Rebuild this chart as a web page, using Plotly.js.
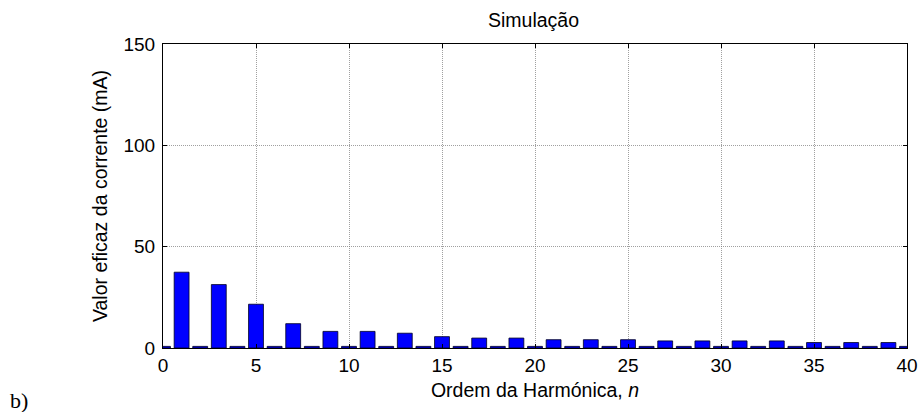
<!DOCTYPE html>
<html>
<head>
<meta charset="utf-8">
<script src="https://cdn.plot.ly/plotly-3.0.1.min.js"></script>
<style>html,body{margin:0;padding:0;background:#fff;}#chart{width:923px;height:412px;}</style>
</head>
<body>
<div id="chart"></div>
<script>
const harmonicOrder = [0,1,2,3,4,5,6,7,8,9,10,11,12,13,14,15,16,17,18,19,20,21,22,23,24,25,26,27,28,29,30,31,32,33,34,35,36,37,38,39,40];
const currentRms = [0.8,37.4,0.8,31.3,0.8,21.6,0.8,12.0,0.8,8.2,0.8,8.2,0.8,7.3,0.8,5.6,0.8,4.9,0.8,4.9,0.8,4.1,0.8,4.1,0.8,4.1,0.8,3.5,0.8,3.5,0.8,3.5,0.8,3.5,0.8,2.7,0.8,2.7,0.8,2.7,0.8];
const xTicks = [0,5,10,15,20,25,30,35,40];
const yTicks = [0,50,100,150];

const font = "Liberation Sans, Arial, sans-serif";
const trace = {
  type: 'bar',
  x: harmonicOrder,
  y: currentRms,
  width: 0.8,
  marker: {color: '#0000ff', line: {color: '#000022', width: 0.8}},
  hoverinfo: 'x+y'
};
const axisCommon = {
  showline: true, linecolor: '#000', linewidth: 1, mirror: 'ticks',
  ticks: 'inside', ticklen: 4, tickcolor: '#000', tickwidth: 1,
  showgrid: true, gridcolor: '#777', gridwidth: 0.7, griddash: '1px,1px',
  zeroline: false, tickfont: {family: font, size: 19, color: '#000'}
};
const layout = {
  width: 923, height: 412,
  margin: {l: 163, r: 16, t: 44, b: 64},
  paper_bgcolor: '#fff', plot_bgcolor: '#fff',
  showlegend: false,
  title: {text: 'Simulação', font: {family: font, size: 19.5, color: '#000'}, x: 0.578, xanchor: 'center', y: 0.951, yanchor: 'middle'},
  xaxis: Object.assign({}, axisCommon, {
    range: [0, 40], tickvals: xTicks, ticktext: xTicks.map(String),
    title: {text: 'Ordem da Harmónica, <i>n</i>', font: {family: font, size: 19.5, color: '#000'}, standoff: 8}
  }),
  yaxis: Object.assign({}, axisCommon, {
    range: [0, 150], tickvals: yTicks, ticktext: yTicks.map(String),
    ticklabelstandoff: 3,
    title: {text: 'Valor eficaz da corrente (mA)', font: {family: font, size: 19.5, color: '#000'}, standoff: 10}
  }),
  annotations: [{
    text: 'b)', xref: 'paper', yref: 'paper', x: -0.208, y: -0.174,
    xanchor: 'left', yanchor: 'middle', showarrow: false,
    font: {family: 'Liberation Serif, Times New Roman, serif', size: 22, color: '#000'}
  }]
};
Plotly.newPlot('chart', [trace], layout, {displayModeBar: false, staticPlot: true});
</script>
</body>
</html>
